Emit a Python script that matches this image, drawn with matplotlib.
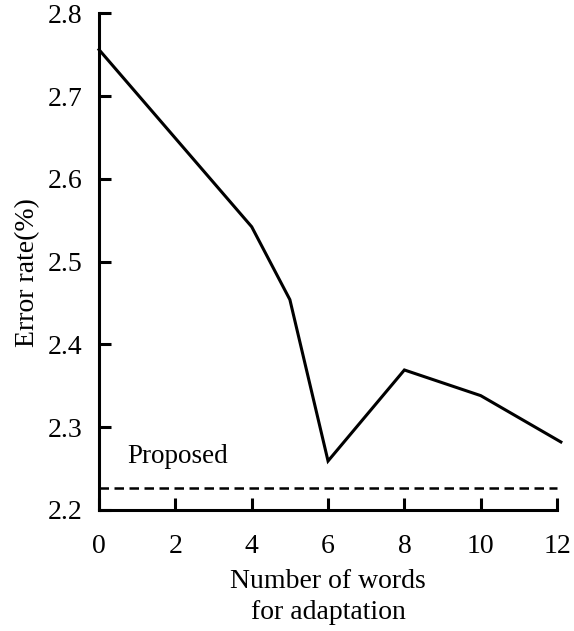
import matplotlib

matplotlib.use("Agg")
import matplotlib.pyplot as plt

# data
words = [0, 4, 5, 6, 8, 10, 12.1]
error_rate = [2.756, 2.542, 2.454, 2.259, 2.369, 2.338, 2.282]
proposed = 2.227
xticks = [0, 2, 4, 6, 8, 10, 12]
yticks = [2.2, 2.3, 2.4, 2.5, 2.6, 2.7, 2.8]

plt.rcParams["font.family"] = ["Liberation Serif", "DejaVu Serif"]

fig = plt.figure(figsize=(5.74, 6.31), dpi=100)
ax = fig.add_axes([0.1725, 0.192, 0.798, 0.787])

ax.plot(words, error_rate, color="black", lw=2.2, clip_on=False, solid_joinstyle="miter")
ax.plot([0, 12], [proposed, proposed], color="black", lw=1.8, ls=(0, (3.8, 2.2)), clip_on=False)
ax.text(0.75, 2.257, "Proposed", fontsize=19.5, ha="left", va="baseline")

ax.set_xlim(0, 12)
ax.set_ylim(2.2, 2.8)
ax.set_xticks(xticks)
ax.set_yticks(yticks)
ax.set_yticklabels([f"{v:.1f}" for v in yticks])
ax.tick_params(direction="in", length=8.5, width=2.2, labelsize=20)
ax.tick_params(axis="y", pad=12)
ax.tick_params(axis="x", pad=17.5)

for s in ["top", "right"]:
    ax.spines[s].set_visible(False)
for s in ["left", "bottom"]:
    ax.spines[s].set_linewidth(2.2)

ax.set_ylabel("Error rate(%)", fontsize=20)
ax.yaxis.set_label_coords(-0.128, 0.477)
ax.set_xlabel("Number of words\nfor adaptation", fontsize=20, labelpad=7, linespacing=1.3)

fig.savefig("out.png", dpi=100)
